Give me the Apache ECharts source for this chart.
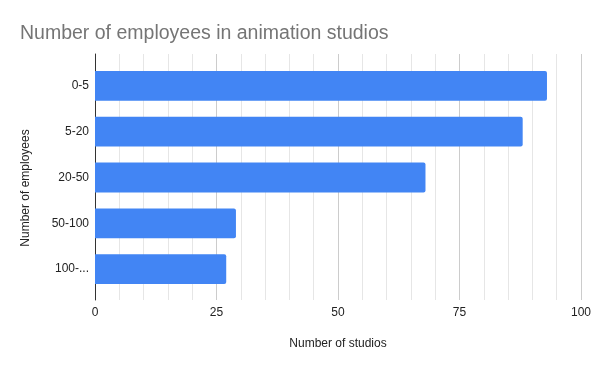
<!DOCTYPE html>
<html><head><meta charset="utf-8">
<script src="https://cdn.jsdelivr.net/npm/echarts@6/dist/echarts.min.js"></script>
<style>html,body{margin:0;padding:0;background:#fff}#c{width:600px;height:371px}</style>
</head><body><div id="c"></div>
<script>
const categories = ['0-5', '5-20', '20-50', '50-100', '100-...'];
const studios = [93, 88, 68, 29, 27];
const xTicks = [0, 25, 50, 75, 100];

const font = 'Liberation Sans, Arial, sans-serif';
const chart = echarts.init(document.getElementById('c'), null, {renderer: 'canvas'});
chart.setOption({
  animation: false,
  backgroundColor: '#fff',
  title: {
    text: 'Number of employees in animation studios',
    left: 15, top: 19,
    textStyle: {fontFamily: font, fontSize: 19.5, fontWeight: 'normal', color: '#757575'}
  },
  graphic: [{
    type: 'text', x: 26, y: 188, rotation: Math.PI / 2,
    style: {text: 'Number of employees', font: '12px ' + font, fill: '#222', align: 'center', verticalAlign: 'middle'}
  }],
  grid: [
    {left: 95, width: 486, top: 54, height: 246},
    {left: 95, width: 486, top: 63, height: 229}
  ],
  xAxis: [
    {
      gridIndex: 0, type: 'value', min: xTicks[0], max: xTicks[xTicks.length - 1], interval: 25,
      axisLine: {show: false}, axisTick: {show: false},
      axisLabel: {fontFamily: font, fontSize: 12, color: '#222', margin: 7},
      splitLine: {show: true, lineStyle: {color: '#cccccc', width: 1}},
      minorTick: {show: false, splitNumber: 5},
      minorSplitLine: {show: true, lineStyle: {color: '#e6e6e6', width: 1}},
      name: 'Number of studios', nameLocation: 'middle', nameGap: 38,
      nameTextStyle: {fontFamily: font, fontSize: 12, color: '#222'}
    },
    {
      gridIndex: 1, type: 'value', min: 0, max: 100,
      show: false
    }
  ],
  yAxis: [
    {
      gridIndex: 0, type: 'value', min: 0, max: 1,
      axisLine: {show: true, lineStyle: {color: '#333', width: 1}},
      axisTick: {show: false}, axisLabel: {show: false}, splitLine: {show: false}
    },
    {
      gridIndex: 1, type: 'category', data: categories, inverse: true,
      axisLine: {show: false}, axisTick: {show: false},
      axisLabel: {fontFamily: font, fontSize: 12, color: '#222', margin: 6},
      splitLine: {show: false}
    }
  ],
  series: [{
    type: 'bar', xAxisIndex: 1, yAxisIndex: 1,
    data: studios, barCategoryGap: '35%',
    itemStyle: {color: '#4285F4', borderRadius: [0, 2, 2, 0]}
  }]
});
</script></body></html>
